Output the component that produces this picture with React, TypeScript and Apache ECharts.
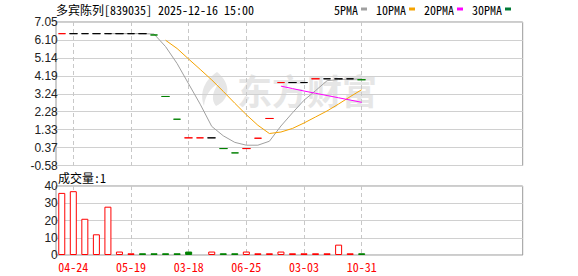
import React, { useEffect, useRef } from 'react';
import * as echarts from 'echarts';

// ---- data ----
const slotCount = 40;
const labelIndices = [1, 6, 11, 16, 21, 26];
const labelTexts = ['04-24', '05-19', '03-18', '06-25', '03-03', '10-31'];

// daily price (open = close = low = high on every visible bar)
const closes = [6.43, 6.43, 6.43, 6.43, 6.43, 6.43, 6.43, 6.43, 6.36, 3.09, 1.88, 0.89, 0.89, 0.89, 0.32, 0.09, 0.32, 0.87, 1.92, 3.83, 3.83, 3.83, 4.03, 4.03, 4.03, 4.03, 3.98];
const candleTones = ['r', 'k', 'k', 'k', 'k', 'k', 'k', 'k', 'g', 'g', 'g', 'r', 'r', 'k', 'g', 'g', 'r', 'r', 'r', 'r', 'k', 'k', 'r', 'k', 'k', 'k', 'g'];

const ma5 = [null, null, null, null, 6.43, 6.43, 6.43, 6.43, 6.41, 5.74, 4.84, 3.76, 2.68, 1.5, 1.0, 0.65, 0.5, 0.5, 0.71, 1.52, 2.22, 2.89, 3.4, 3.93, 3.99, 4.01, 4.02];
const ma10 = [null, null, null, null, null, null, null, null, null, 6.08, 5.64, 5.08, 4.53, 3.97, 3.36, 2.73, 2.12, 1.56, 1.12, 1.2, 1.39, 1.68, 2.0, 2.32, 2.69, 3.08, 3.45];
const ma20 = [null, null, null, null, null, null, null, null, null, null, null, null, null, null, null, null, null, null, null, 3.64, 3.51, 3.38, 3.26, 3.14, 3.02, 2.9, 2.78];
const ma30: (number | null)[] = [];

const volumes = [36, 37, 21, 12, 28, 2, 1, 1, 1, 1, 1, 2, null, 2, 1, 1, 2, 1, 1, 2, 1, 1, 1, 1, 6, 1, 1];
const volumeTones = ['r', 'r', 'r', 'r', 'r', 'r', 'r', 'g', 'g', 'g', 'g', 'g', 'g', 'r', 'g', 'g', 'r', 'r', 'r', 'r', 'r', 'r', 'r', 'r', 'r', 'r', 'g'];

const priceMin = -0.58;
const priceMax = 7.05;
const priceStep = 0.95375;
const volMin = 0;
const volMax = 40;
const volStep = 10;

const titleText = '多宾陈列[839035] 2025-12-16 15:00';
const volumeTitle = '成交量:1';
const legendNames = ['5PMA', '10PMA', '20PMA', '30PMA'];
const legendColors = ['#a0a0a0', '#f5a300', '#ff00ff', '#007a37'];

// ---- styles ----
const RED = '#ff0000';
const GREEN = '#008000';
const BLACK = '#000000';
const toneColor: Record<string, string> = { r: RED, g: GREEN, k: BLACK };
const monoCJK = "'Noto Sans Mono CJK SC', 'Noto Sans CJK SC', monospace";
const sans = "'Liberation Sans', Arial, sans-serif";

const slot = 11.535;
const dataLeft = 61.77;
const dataWidth = slot * (slotCount - 1);
const plotLeft = 56;
const plotWidth = 466.7;
const mainTop = 22;
const mainHeight = 143.5;
const volTop = 186;
const volHeight = 69;

const logoPath = 'M18 0 C6 8 0 20 5 34 C6 24 11 16 20 11 C13 20 12 28 17 34 C31 28 33 12 18 0 Z';

const fmt2 = (v: number) => (Math.round((v + 1e-9) * 100) / 100).toFixed(2);

export default function App() {
  const ref = useRef<HTMLDivElement>(null);
  useEffect(() => {
    if (!ref.current) return;
    try {
      echarts.graphic.registerShape('dfcfLogo', echarts.graphic.extendPath(logoPath, {}) as any);
    } catch (e) {}
    const chart = echarts.init(ref.current, undefined, { renderer: 'svg' });
    const categories = Array.from({ length: slotCount }, (_, i) => {
      const k = labelIndices.indexOf(i);
      return k >= 0 ? labelTexts[k] : '';
    });
    const showAt = (i: number) => labelIndices.includes(i);

    const candleData = closes.map((c, i) => {
      const col = toneColor[candleTones[i]];
      return {
        value: [c, c, c, c],
        itemStyle: { color: col, color0: col, borderColor: col, borderColor0: col, borderColorDoji: col },
      };
    });
    const volData = volumes.map((v, i) => {
      if (v == null) return '-';
      const tone = volumeTones[i];
      return {
        value: v,
        itemStyle: tone === 'g'
          ? { color: GREEN, borderColor: GREEN, borderWidth: 1 }
          : { color: '#ffffff', borderColor: RED, borderWidth: 1 },
      };
    });
    const lineData = (arr: (number | null)[]) => arr.map((v) => (v == null ? '-' : v));
    const maArrays = [ma5, ma10, ma20, ma30];

    const splitDashed = { show: true, interval: (i: number) => showAt(i), lineStyle: { color: '#c8c8c8', type: [4, 3], width: 1 } };

    const option: any = {
      animation: false,
      backgroundColor: '#ffffff',
      title: [
        { text: titleText, left: 56, top: 3, padding: 0, textStyle: { fontFamily: monoCJK, fontSize: 12, fontWeight: 'normal', color: '#000' } },
        { text: volumeTitle, left: 58, top: 171, padding: 0, textStyle: { fontFamily: monoCJK, fontSize: 12, fontWeight: 'normal', color: '#000' } },
      ],
      legend: {
        data: legendNames,
        right: 67,
        top: 3,
        padding: 0,
        align: 'right',
        icon: 'rect',
        itemWidth: 6,
        itemHeight: 3,
        itemGap: 9,
        selectedMode: false,
        textStyle: { fontFamily: monoCJK, fontSize: 12, color: '#000', padding: [0, -2, 0, 0] },
      },
      graphic: [
        {
          type: 'group',
          z: 0,
          silent: true,
          children: [
            { type: 'dfcfLogo', x: 199, y: 72, scaleX: 1, scaleY: 1, style: { fill: '#e6e6e6' } },
            {
              type: 'text', x: 237, y: 89,
              style: { text: '东方财富', font: "bold 35px 'Noto Sans CJK SC'", fill: '#e6e6e6', textVerticalAlign: 'middle', verticalAlign: 'middle' },
            },
          ],
        },
      ],
      grid: [
        { left: dataLeft, top: mainTop, width: dataWidth, height: mainHeight },
        { left: dataLeft, top: volTop, width: dataWidth, height: volHeight },
        { left: plotLeft, top: mainTop, width: plotWidth, height: mainHeight, show: true, borderColor: '#999', borderWidth: 1, backgroundColor: 'transparent' },
        { left: plotLeft, top: volTop, width: plotWidth, height: volHeight, show: true, borderColor: '#999', borderWidth: 1, backgroundColor: 'transparent' },
      ],
      xAxis: [
        {
          type: 'category', gridIndex: 0, data: categories, boundaryGap: false,
          axisLine: { show: false }, axisTick: { show: false }, axisLabel: { show: false },
          splitLine: splitDashed,
        },
        {
          type: 'category', gridIndex: 1, data: categories, boundaryGap: false,
          axisLine: { show: false }, axisTick: { show: false },
          axisLabel: { show: true, interval: (i: number) => showAt(i), color: RED, fontFamily: monoCJK, fontSize: 12, margin: 5 },
          splitLine: splitDashed,
        },
        { type: 'value', gridIndex: 2, show: false, min: 0, max: 1 },
        { type: 'value', gridIndex: 3, show: false, min: 0, max: 1 },
      ],
      yAxis: [
        {
          type: 'value', gridIndex: 0, min: priceMin, max: priceMax, interval: priceStep,
          axisLine: { show: false }, axisTick: { show: false }, splitLine: { show: false },
          axisLabel: { formatter: (v: number) => fmt2(v), color: '#222', fontFamily: sans, fontSize: 12, margin: 4 },
        },
        {
          type: 'value', gridIndex: 1, min: volMin, max: volMax, interval: volStep,
          axisLine: { show: false }, axisTick: { show: false }, splitLine: { show: false },
          axisLabel: { color: '#222', fontFamily: sans, fontSize: 12, margin: 4 },
        },
        {
          type: 'value', gridIndex: 2, min: priceMin, max: priceMax, interval: priceStep,
          axisLine: { show: false }, axisTick: { show: false }, axisLabel: { show: false },
          splitLine: { show: true, lineStyle: { color: '#d0d0d0', width: 1 } },
        },
        {
          type: 'value', gridIndex: 3, min: volMin, max: volMax, interval: volStep,
          axisLine: { show: false }, axisTick: { show: false }, axisLabel: { show: false },
          splitLine: { show: true, lineStyle: { color: '#d0d0d0', width: 1 } },
        },
      ],
      series: [
        ...legendNames.map((name, k) => ({
          name,
          type: 'line',
          xAxisIndex: 0,
          yAxisIndex: 0,
          data: lineData(maArrays[k]),
          showSymbol: false,
          symbol: 'none',
          clip: false,
          color: legendColors[k],
          lineStyle: { color: legendColors[k], width: 1 },
          z: 3,
        })),
        {
          name: 'K',
          type: 'candlestick',
          xAxisIndex: 0,
          yAxisIndex: 0,
          data: candleData,
          barWidth: 8,
          clip: false,
          z: 4,
        },
        {
          name: 'VOL',
          type: 'bar',
          xAxisIndex: 1,
          yAxisIndex: 1,
          data: volData,
          barWidth: 7,
          clip: false,
          z: 4,
        },
      ],
    };
    chart.setOption(option);
    return () => chart.dispose();
  }, []);
  return <div ref={ref} style={{ position: 'fixed', left: 0, top: 0, width: 578, height: 276 }} />;
}
